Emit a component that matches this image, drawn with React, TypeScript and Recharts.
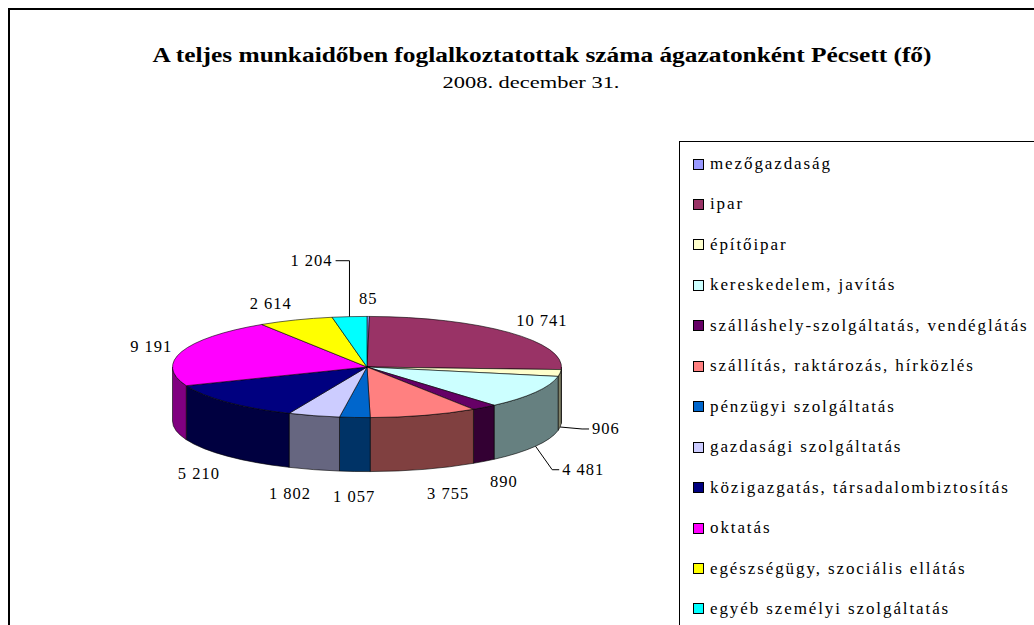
import React from 'react';
import { PieChart, Pie, Cell, Legend } from 'recharts';

const categories = [
  'mezőgazdaság',
  'ipar',
  'építőipar',
  'kereskedelem, javítás',
  'szálláshely-szolgáltatás, vendéglátás',
  'szállítás, raktározás, hírközlés',
  'pénzügyi szolgáltatás',
  'gazdasági szolgáltatás',
  'közigazgatás, társadalombiztosítás',
  'oktatás',
  'egészségügy, szociális ellátás',
  'egyéb személyi szolgáltatás',
];
const employees = [85, 10741, 906, 4481, 890, 3755, 1057, 1802, 5210, 9191, 2614, 1204];
const colors = [
  '#9999FF', '#993366', '#FFFFCC', '#CCFFFF', '#660066', '#FF8080',
  '#0066CC', '#CCCCFF', '#000080', '#FF00FF', '#FFFF00', '#00FFFF',
];

const data = categories.map((name, i) => ({ name, value: employees[i] }));

const FONT = '"Liberation Serif", "Times New Roman", serif';
const RX = 194.5;
const TILT = 0.26;
const DEPTH = 54;

// labels Excel moved by hand (with leader lines)
const movedLabels: Record<string, { dx: number; dy: number; anchor?: string }> = {
  'építőipar': { dx: 22, dy: -1 },
  'kereskedelem, javítás': { dx: 18, dy: 11 },
  'egyéb személyi szolgáltatás': { dx: -16, dy: -38, anchor: 'end' },
};

const fmt = (v: number) => String(v).replace(/\B(?=(\d{3})+(?!\d))/g, ' ');

function darken(hex: string, k = 0.5) {
  const n = parseInt(hex.slice(1), 16);
  const r = Math.round(((n >> 16) & 255) * k);
  const g = Math.round(((n >> 8) & 255) * k);
  const b = Math.round((n & 255) * k);
  return `rgb(${r},${g},${b})`;
}

function pt(cx: number, cy: number, rx: number, ry: number, deg: number, dy = 0) {
  const a = (deg * Math.PI) / 180;
  return [cx + rx * Math.cos(a), cy - ry * Math.sin(a) + dy];
}

function Slice(props: any) {
  const { cx, cy, outerRadius, startAngle, endAngle, fill } = props;
  const rx = outerRadius;
  const ry = outerRadius * TILT;
  const hi = Math.max(startAngle, endAngle);
  const lo = Math.min(startAngle, endAngle);
  const [x1, y1] = pt(cx, cy, rx, ry, hi);
  const [x2, y2] = pt(cx, cy, rx, ry, lo);
  const large = hi - lo > 180 ? 1 : 0;
  const top = `M${cx},${cy} L${x1},${y1} A${rx},${ry} 0 ${large} 1 ${x2},${y2} Z`;

  // outer wall, only the front half is visible
  const s = Math.min(hi, 0);
  const e = Math.max(lo, -180);
  let side = null;
  if (s > e) {
    const [a1, b1] = pt(cx, cy, rx, ry, s);
    const [a2, b2] = pt(cx, cy, rx, ry, e);
    const d = `M${a1},${b1} A${rx},${ry} 0 0 1 ${a2},${b2} L${a2},${b2 + DEPTH} A${rx},${ry} 0 0 0 ${a1},${b1 + DEPTH} Z`;
    side = <path d={d} fill={darken(fill)} stroke="#000" strokeWidth={0.6} />;
  }
  return (
    <g>
      {side}
      <path d={top} fill={fill} stroke="#000" strokeWidth={0.6} />
    </g>
  );
}

function renderLabel(props: any) {
  const { cx, cy, outerRadius, midAngle, value, name } = props;
  const rx = outerRadius;
  const ry = outerRadius * TILT;
  const a = (midAngle * Math.PI) / 180;
  const cos = Math.cos(a);
  const sin = Math.sin(a);
  let anchor = cos > 0.1 ? 'start' : cos < -0.1 ? 'end' : 'middle';
  let x = cx + (rx + 10) * cos;
  let y = sin >= 0 ? cy - (ry + 11) * sin - 7 * sin : cy - (ry + 18) * sin + DEPTH - 7 * sin;
  const mv = movedLabels[name];
  let leader = null;
  if (mv) {
    x += mv.dx;
    y += mv.dy;
    if (mv.anchor) anchor = mv.anchor;
    const [sx, sy] = pt(cx, cy, rx, ry, midAngle, sin < 0 ? DEPTH : 0);
    const dir = anchor === 'end' ? -1 : 1;
    const endX = x - dir * 3;
    const elbowX = Math.abs(cos) < 0.2 ? sx : endX - dir * 7;
    leader = (
      <polyline
        points={`${sx},${sy} ${elbowX},${y} ${endX},${y}`}
        fill="none"
        stroke="#000"
        strokeWidth={1}
      />
    );
  }
  return (
    <g key={`lbl-${name}`}>
      {leader}
      <text
        x={x}
        y={y}
        textAnchor={anchor}
        dominantBaseline="central"
        fontFamily={FONT}
        fontSize={16.5}
        letterSpacing={1}
        fill="#000"
      >
        {fmt(value)}
      </text>
    </g>
  );
}

function LegendBox() {
  return (
    <div
      style={{
        width: 420,
        height: 560,
        border: '1.5px solid #000',
        background: '#fff',
        boxSizing: 'border-box',
        position: 'relative',
      }}
    >
      {categories.map((c, i) => (
        <div
          key={c}
          style={{
            position: 'absolute',
            left: 13,
            top: 22 + i * 40.45 - 11,
            height: 22,
            display: 'flex',
            alignItems: 'center',
            whiteSpace: 'nowrap',
            fontFamily: FONT,
            fontSize: 17,
            letterSpacing: 1.9,
            color: '#000',
          }}
        >
          <span
            style={{
              display: 'inline-block',
              width: 9,
              height: 9,
              background: colors[i],
              border: '1px solid #000',
              marginRight: 6,
            }}
          />
          <span style={{ fontFamily: FONT }}>{c}</span>
        </div>
      ))}
    </div>
  );
}

export default function App() {
  return (
    <div style={{ position: 'absolute', left: 0, top: 0, width: 1034, height: 625, overflow: 'hidden', background: '#fff' }}>
      <svg width={1034} height={625} style={{ position: 'absolute', left: 0, top: 0 }}>
        <rect x={9} y={9} width={1100} height={700} fill="#fff" stroke="#000" strokeWidth={2} />
        <text
          x={542}
          y={55}
          textAnchor="middle"
          dominantBaseline="central"
          fontFamily={FONT}
          fontWeight="bold"
          fontSize={20}
          textLength={779}
          lengthAdjust="spacingAndGlyphs"
        >
          A teljes munkaidőben foglalkoztatottak száma ágazatonként Pécsett (fő)
        </text>
        <text
          x={531}
          y={82}
          textAnchor="middle"
          dominantBaseline="central"
          fontFamily={FONT}
          fontSize={17}
          textLength={177}
          lengthAdjust="spacingAndGlyphs"
        >
          2008. december 31.
        </text>
      </svg>
      <div style={{ position: 'absolute', left: 0, top: 0 }}>
        <PieChart width={1034} height={625} margin={{ top: 0, right: 0, bottom: 0, left: 0 }}>
          <Pie
            data={data}
            dataKey="value"
            nameKey="name"
            cx={367}
            cy={367}
            outerRadius={RX}
            startAngle={90}
            endAngle={-270}
            shape={Slice}
            label={renderLabel}
            labelLine={false}
            isAnimationActive={false}
          >
            {data.map((d, i) => (
              <Cell key={d.name} fill={colors[i]} />
            ))}
          </Pie>
          <Legend
            content={() => <LegendBox />}
            wrapperStyle={{ position: 'absolute', left: 679, top: 141, width: 420, height: 560 }}
          />
        </PieChart>
      </div>
    </div>
  );
}
